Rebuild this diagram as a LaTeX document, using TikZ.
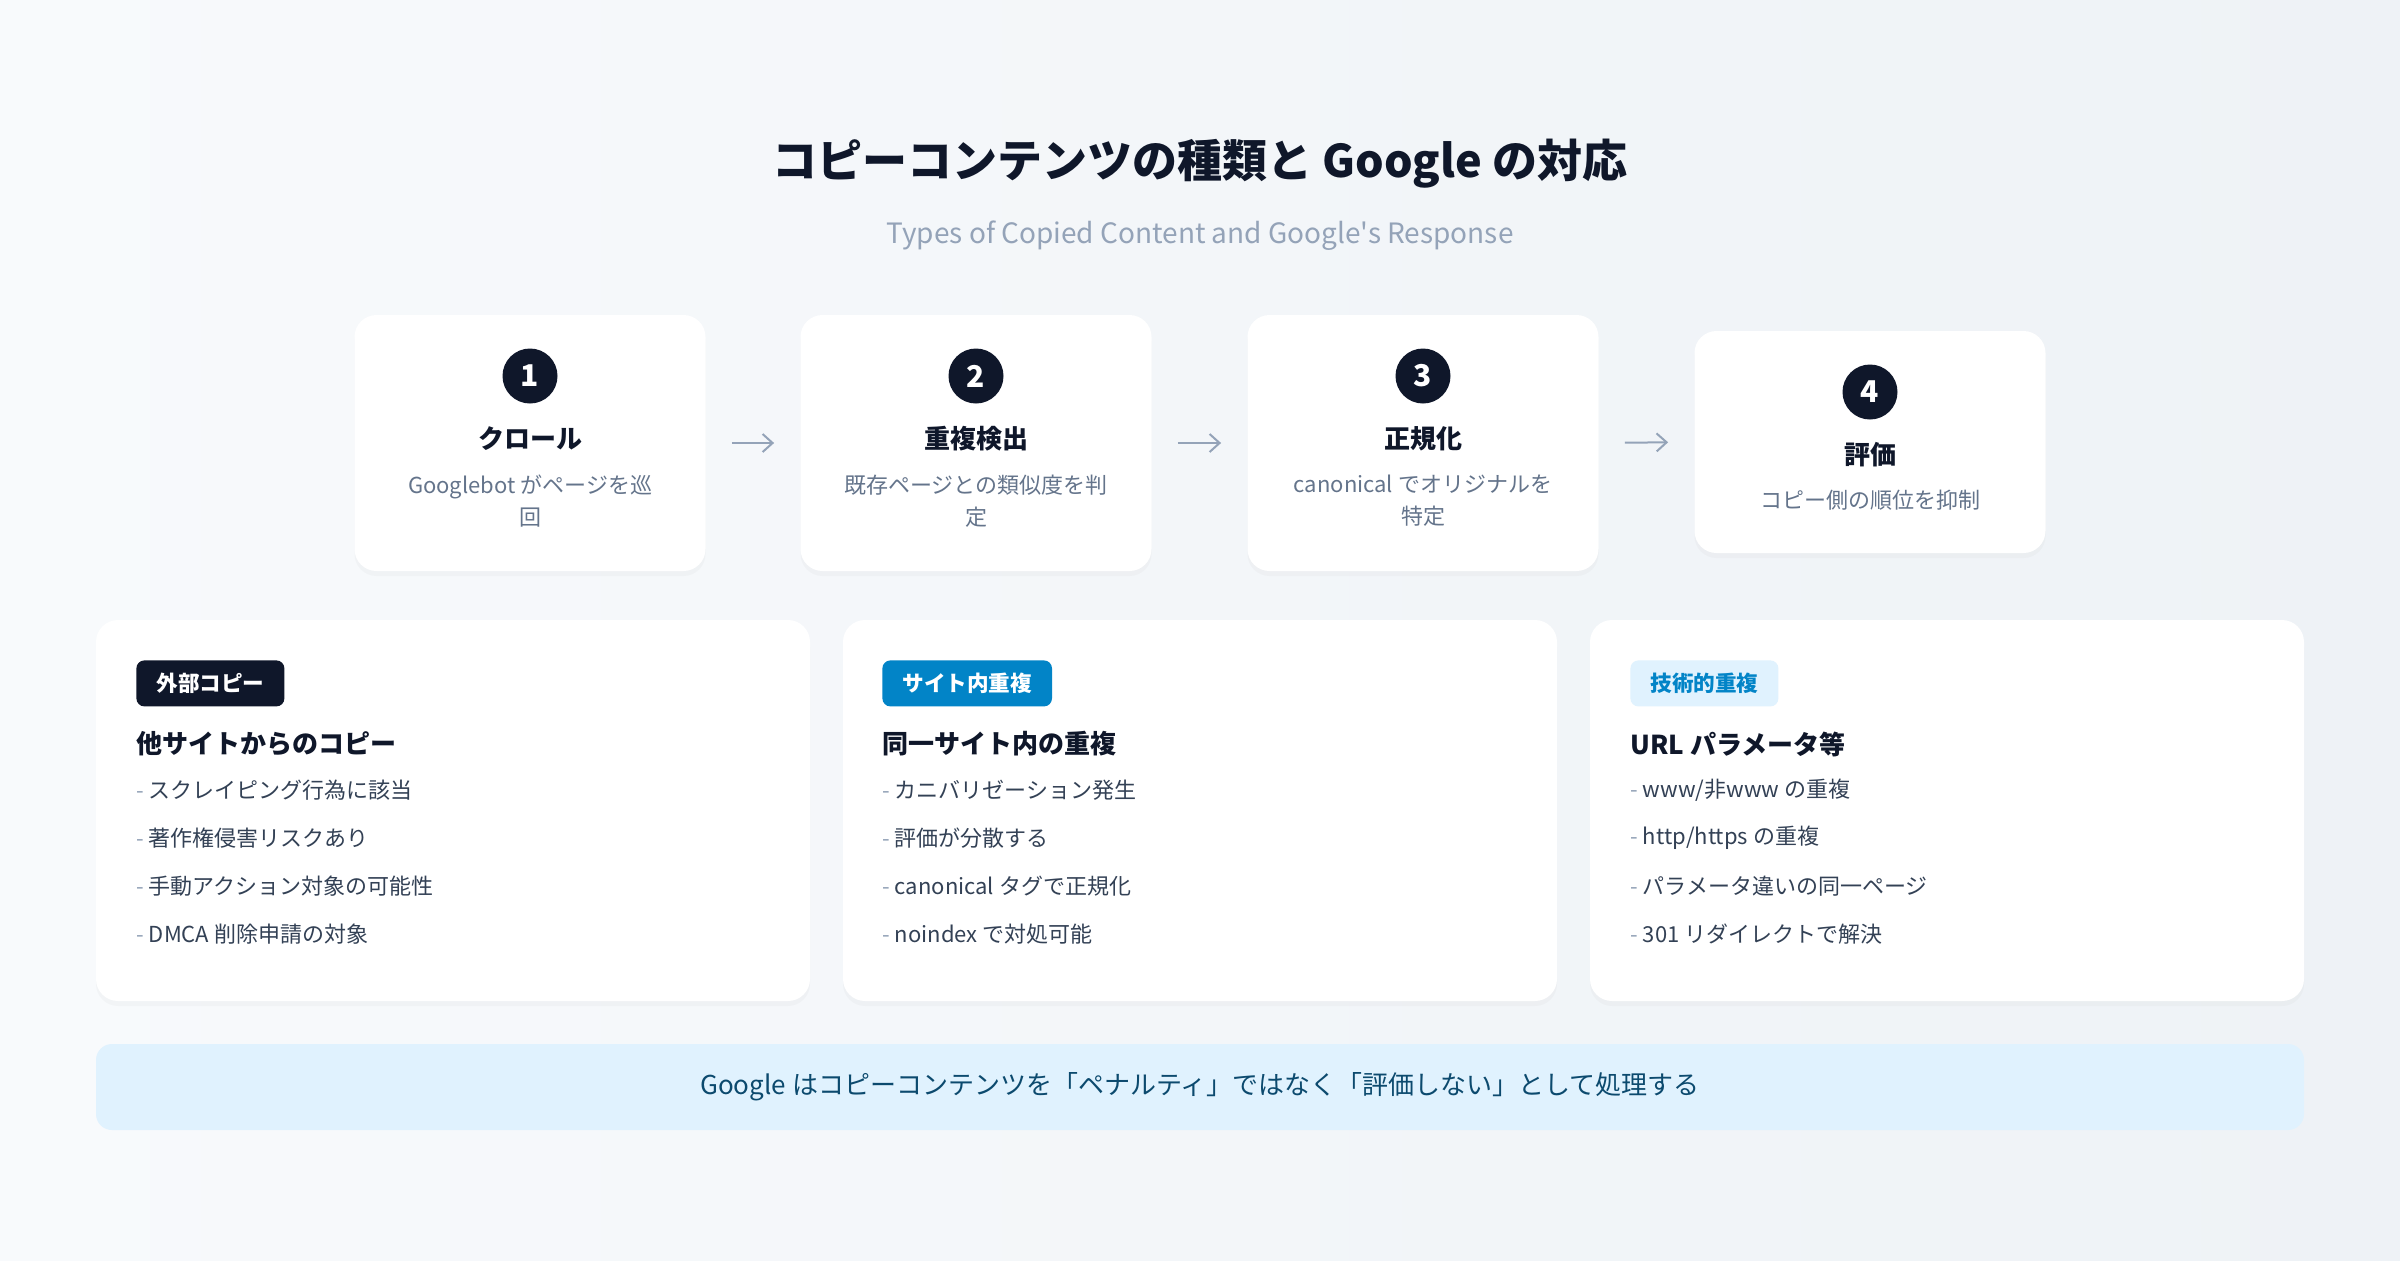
\documentclass[tikz,border=0pt]{standalone}
\usepackage{fontspec}
\setmainfont{Noto Sans CJK JP}
\newfontfamily\plainfont{Noto Sans CJK JP}
\usetikzlibrary{positioning,arrows.meta,shadows}

\definecolor{ink}{HTML}{0F172A}
\definecolor{slate}{HTML}{64748B}
\definecolor{bodytext}{HTML}{334155}
\definecolor{muted}{HTML}{94A3B8}
\definecolor{skyblue}{HTML}{0284C7}
\definecolor{skypale}{HTML}{E0F2FE}
\definecolor{deepsea}{HTML}{0C4A6E}
\definecolor{bgA}{HTML}{F8FAFC}
\definecolor{bgB}{HTML}{EEF2F6}

\tikzset{
  card/.style={fill=white, rounded corners=11pt, draw=none,
    drop shadow={opacity=0.045, shadow xshift=0pt, shadow yshift=-2.5pt}},
  stepcard/.style={card, minimum width=175.5pt, minimum height=128pt},
  typecard/.style={card, minimum width=357pt, minimum height=190.5pt},
  numdot/.style={circle, fill=ink, text=white, minimum size=27.5pt, inner sep=0pt,
    font=\fontsize{15}{15}\selectfont\bfseries},
  steptitle/.style={text=ink, inner sep=0pt, font=\fontsize{13}{13}\selectfont\bfseries},
  stepnote/.style={text=slate, inner sep=0pt, align=center,
    font=\fontsize{11}{16}\selectfont},
  flowarrow/.style={draw=muted, line width=1pt, -{Straight Barb[length=5pt,width=9pt]},
    shorten <=13pt, shorten >=13pt},
  badge/.style={anchor=north west, rounded corners=4pt, inner xsep=10pt, inner ysep=0pt,
    minimum height=23pt, font=\fontsize{10.8}{10.8}\selectfont\bfseries},
  cardhead/.style={anchor=west, inner sep=0pt, text=ink,
    font=\fontsize{13}{13}\selectfont\bfseries},
  item/.style={anchor=west, inner sep=0pt, text=bodytext,
    font=\fontsize{11}{11}\selectfont},
}
\newcommand{\dashitem}{{\color{muted}-} }

\begin{document}
\begin{tikzpicture}[x=0.5pt, y=-0.5pt]
  % background
  \useasboundingbox (0,0) rectangle (2400,1260);
  \shade[left color=bgA, right color=bgB] (0,0) rectangle (2400,1260);

  % title
  \node[text=ink, font=\fontsize{22.5}{22.5}\selectfont\bfseries] (title) at (1200,164)
    {コピーコンテンツの種類と Google の対応};
  \node[text=muted, font=\plainfont\fontsize{14}{14}\selectfont] (subtitle) at (1200,236)
    {Types of Copied Content and Google's Response};

  % flow of steps
  \node[stepcard] (s1) at (530,443) {};
  \node[stepcard] (s2) at (976,443) {};
  \node[stepcard] (s3) at (1423,443) {};
  \node[stepcard, minimum height=111pt] (s4) at (1870,442) {};

  \node[numdot] (n1) at (530,376) {1};
  \node[steptitle] (t1) at (530,439) {クロール};
  \node[stepnote] (d1) at (530,501) {Googlebot がページを巡\\回};

  \node[numdot] (n2) at (976,376) {2};
  \node[steptitle] (t2) at (976,439) {重複検出};
  \node[stepnote] (d2) at (976,501) {既存ページとの類似度を判\\定};

  \node[numdot] (n3) at (1423,376) {3};
  \node[steptitle] (t3) at (1423,439) {正規化};
  \node[stepnote] (d3) at (1423,501) {canonical でオリジナルを\\特定};

  \node[numdot] (n4) at (1870,392) {4};
  \node[steptitle] (t4) at (1870,455) {評価};
  \node[stepnote] (d4) at (1870,500) {コピー側の順位を抑制};

  \draw[flowarrow] (s1.east) -- (s2.west);
  \draw[flowarrow] (s2.east) -- (s3.west);
  \draw[flowarrow] (s3.east) -- (s4.west);

  % kinds of copies
  \node[typecard] (c1) at (453,810.5) {};
  \node[typecard] (c2) at (1200,810.5) {};
  \node[typecard] (c3) at (1947,810.5) {};

  \node[badge, fill=ink, text=white] (b1) at (136,660) {外部コピー};
  \node[cardhead] (h1) at (136,744) {他サイトからのコピー};
  \node[item] (i11) at (136,790) {\dashitem スクレイピング行為に該当};
  \node[item] (i12) at (136,838) {\dashitem 著作権侵害リスクあり};
  \node[item] (i13) at (136,886) {\dashitem 手動アクション対象の可能性};
  \node[item] (i14) at (136,934) {\dashitem DMCA 削除申請の対象};

  \node[badge, fill=skyblue, text=white] (b2) at (882,660) {サイト内重複};
  \node[cardhead] (h2) at (882,744) {同一サイト内の重複};
  \node[item] (i21) at (882,790) {\dashitem カニバリゼーション発生};
  \node[item] (i22) at (882,838) {\dashitem 評価が分散する};
  \node[item] (i23) at (882,886) {\dashitem canonical タグで正規化};
  \node[item] (i24) at (882,934) {\dashitem noindex で対処可能};

  \node[badge, fill=skypale, text=skyblue] (b3) at (1630,660) {技術的重複};
  \node[cardhead] (h3) at (1630,744) {URL パラメータ等};
  \node[item] (i31) at (1630,790) {\dashitem www/非www の重複};
  \node[item] (i32) at (1630,838) {\dashitem http/https の重複};
  \node[item] (i33) at (1630,886) {\dashitem パラメータ違いの同一ページ};
  \node[item] (i34) at (1630,934) {\dashitem 301 リダイレクトで解決};

  % summary
  \node[fill=skypale, rounded corners=8pt, minimum width=1104pt, minimum height=43pt,
    text=deepsea, font=\fontsize{13}{13}\selectfont] (summary) at (1200,1087)
    {Google はコピーコンテンツを「ペナルティ」ではなく「評価しない」として処理する};
\end{tikzpicture}
\end{document}
